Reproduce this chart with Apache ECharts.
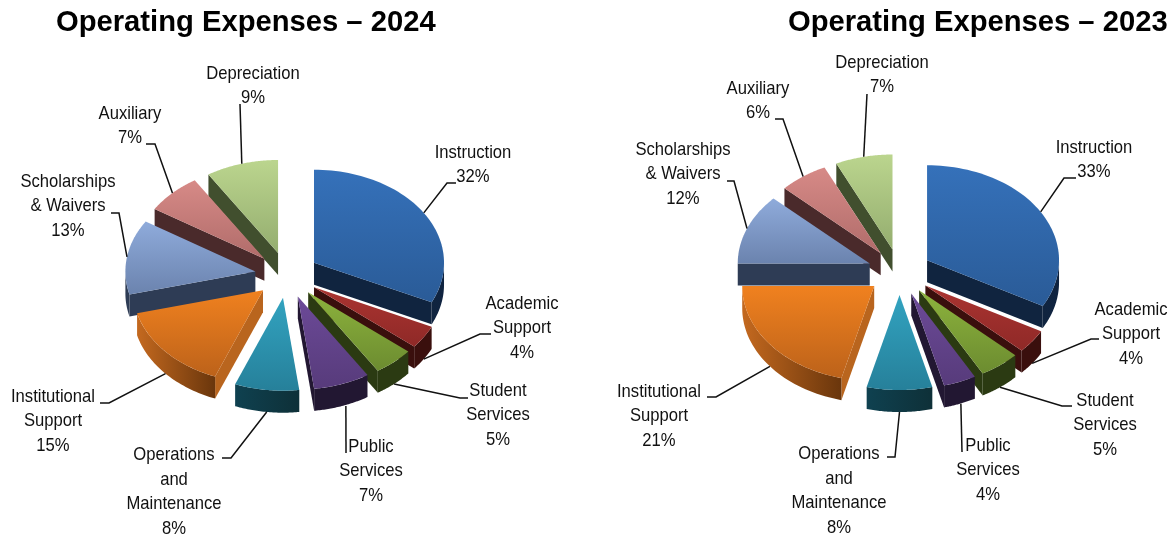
<!DOCTYPE html>
<html>
<head>
<meta charset="utf-8">
<style>html,body{margin:0;padding:0;background:#fff}#c{width:1175px;height:539px}</style>
<script src="https://cdn.jsdelivr.net/npm/echarts@6/dist/echarts.min.js"></script>
</head>
<body>
<div id="c"></div>
<script>
// ---- data ----
const categories = ['Instruction','Academic\nSupport','Student\nServices','Public\nServices','Operations\nand\nMaintenance','Institutional\nSupport','Scholarships\n& Waivers','Auxiliary','Depreciation'];
const values2024 = [32,4,5,7,8,15,13,7,9];
const values2023 = [33,4,5,4,8,21,12,6,7];
const title2024 = 'Operating Expenses \u2013 2024';
const title2023 = 'Operating Expenses \u2013 2023';

// ---- style: [face top, face bottom, cut side, rim light, rim dark] ----
const sliceStyles = [
  ['#3571BA','#2A5B97','#10243F','#10243F','#0F2340'],
  ['#AB3431','#8F2927','#3A0F0D','#3A0F0D','#3A0F0D'],
  ['#8DB33D','#6C8C30','#2B3A12','#2B3A12','#2B3A12'],
  ['#6C4A98','#573B7B','#221732','#221732','#221732'],
  ['#32A3C0','#26809A','#0F3542','#0F4150','#0E3038'],
  ['#F0811F','#BC621A','#B9651E','#C4691F','#6A360C'],
  ['#8FABDB','#6B83AE','#2E3C55','#2E3C55','#2E3C55'],
  ['#D78A87','#B06C6A','#4A2A2B','#4A2A2B','#4A2A2B'],
  ['#BBD58E','#94AD6F','#414F2E','#414F2E','#414F2E']
];

// ---- layout of each pie and of its labels ----
const layout2024 = {
  cx:287, cy:275, rx:130, ry:93, depth:22, explode:32, endShift:[0,0,0,4,0,0,0,0,0],
  labels:[[473,165],[522,328],[498,415],[371,471],[174,492],[53,421],[68,206],[130,126],[253,86]],
  elbows:[[[456,183],[447,183]],[[491,334],[480,334]],[[468,398],[460,398]],[[346,453]],[[222,458],[231,458]],[[100,403],[109,403]],[[111,213],[119,213]],[[146,144],[155,144]],[[240,104]]]
};
const layout2023 = {
  cx:899.5, cy:272, rx:132, ry:95, depth:22, explode:32, endShift:[0,0,0,1,0,0,0,0,0],
  labels:[[1094,160],[1131,334],[1105,425],[988,470],[839,491],[659,416],[683,174],[758,101],[882,75]],
  elbows:[[[1076,178],[1064,178]],[[1099,339],[1091,339]],[[1072,406],[1062,406]],[[962,452]],[[887,457],[895,457]],[[707,397],[716,397]],[[727,181],[734,181]],[[775,119],[783,119]],[[867,94]]]
};

const FONT = '"Liberation Sans", Arial, sans-serif';

function makeRender(values, L) {
  const total = values.reduce((a,b)=>a+b,0);
  const starts = []; let run = 0;
  values.forEach(v => { starts.push(run); run += v; });
  const ang = f => f / total * Math.PI * 2;
  const rad = (ax,ay,t) => [ax + L.rx*Math.sin(t), ay - L.ry*Math.cos(t)];
  const vgrad = (a,b) => ({type:'linear',x:0,y:0,x2:0,y2:1,colorStops:[{offset:0,color:a},{offset:1,color:b}]});
  const hgrad = (a,b) => ({type:'linear',x:0,y:0,x2:1,y2:0,colorStops:[{offset:0,color:a},{offset:1,color:b}]});

  return function (params, api) {
    const i = params.dataIndex;
    const v = api.value(0);
    const a0 = ang(starts[i]), a1 = ang(starts[i] + v), mid = (a0 + a1) / 2;
    const ord = 100 + Math.round(-Math.cos(mid) * 50);
    const ax = L.cx + L.explode * Math.sin(mid);
    const ay = L.cy - L.explode * (L.ry / L.rx) * Math.cos(mid);
    const st = sliceStyles[i];
    const kids = [];
    const d = L.depth;
    const poly = (points, fill, z) => ({type:'polygon', z2:ord+z, silent:true, shape:{points}, style:{fill, stroke:null}});

    // radial cut faces that look towards the viewer
    [[a0, Math.sin(a0) < -0.001],[a1, Math.sin(a1) > 0.001]].forEach(([t,vis]) => {
      if (!vis) return;
      const q = rad(ax,ay,t);
      kids.push(poly([[ax,ay],q,[q[0],q[1]+d],[ax,ay+d]], st[2], 0));
    });
    // outer rim, only the part below the horizontal axis of the ellipse
    const r0 = Math.max(a0, Math.PI/2), r1 = Math.min(a1, Math.PI*1.5);
    if (r1 > r0) {
      const top = [], bottom = [];
      const n = 40;
      for (let k = 0; k <= n; k++) {
        const p = rad(ax,ay, r0 + (r1-r0)*k/n);
        top.push(p); bottom.unshift([p[0],p[1]+d]);
      }
      kids.push(poly(top.concat(bottom), hgrad(st[3],st[4]), 1));
    }
    // top face
    const face = [[ax,ay]];
    const n = 60;
    for (let k = 0; k <= n; k++) face.push(rad(ax,ay, a0 + (a1-a0)*k/n));
    kids.push(poly(face, vgrad(st[0],st[1]), 2));

    // leader line
    const end = rad(ax,ay,mid);
    if (Math.cos(mid) < 0) end[1] += d;
    end[0] += L.endShift[i];
    kids.push({type:'polyline', z2:300, silent:true, shape:{points:L.elbows[i].concat([end])}, style:{stroke:'#111',lineWidth:1.5,fill:null}});

    // label
    kids.push({type:'text', z2:301, silent:true, x:L.labels[i][0], y:L.labels[i][1], scaleX:0.875,
      style:{text:categories[i]+'\n'+v+'%', align:'center', verticalAlign:'middle', fill:'#111', font:'19px '+FONT, lineHeight:24.5}});
    return {type:'group', children:kids};
  };
}

function series(values, L) {
  return {type:'custom', coordinateSystem:'none', silent:true, animation:false, clip:false,
    data:categories.map((c,i)=>({name:c.replace('\n',' '),value:values[i]})),
    renderItem:makeRender(values,L)};
}

const chart = echarts.init(document.getElementById('c'), null, {renderer:'canvas'});
chart.setOption({
  animation:false,
  backgroundColor:'#ffffff',
  title:[
    {text:title2024,left:51,top:3,textStyle:{fontFamily:FONT,fontWeight:'bold',fontSize:29.2,color:'#000'}},
    {text:title2023,left:783,top:3,textStyle:{fontFamily:FONT,fontWeight:'bold',fontSize:29.2,color:'#000'}}
  ],
  series:[series(values2024,layout2024),series(values2023,layout2023)]
});
</script>
</body>
</html>
